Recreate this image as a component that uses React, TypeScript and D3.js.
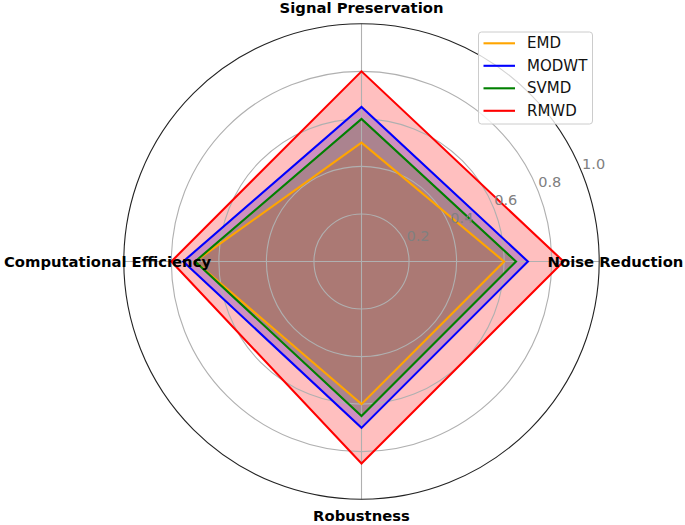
import React from "react";
import * as d3 from "d3";

const categories = ["Noise Reduction", "Signal Preservation", "Computational Efficiency", "Robustness"];
const seriesNames = ["EMD", "MODWT", "SVMD", "RMWD"];
const emdValues = [0.6, 0.5, 0.7, 0.6];
const modwtValues = [0.7, 0.65, 0.75, 0.7];
const svmdValues = [0.65, 0.6, 0.7, 0.65];
const rmwdValues = [0.85, 0.8, 0.8, 0.85];
const seriesColors = ["orange", "blue", "green", "red"];
const radialTicks = [0.2, 0.4, 0.6, 0.8, 1.0];
const tickLabels = ["0.2", "0.4", "0.6", "0.8", "1.0"];

const allSeries = [emdValues, modwtValues, svmdValues, rmwdValues];

const W = 685;
const H = 525;
const CX = 361.5;
const CY = 261.5;
const R = 237.7;
const FONT = "'DejaVu Sans', sans-serif";

export default function App() {
  const r = d3.scaleLinear().domain([0, 1]).range([0, R]);
  const theta = d3.scaleLinear().domain([0, categories.length]).range([0, 2 * Math.PI]);
  const d3Angle = (i: number) => Math.PI / 2 - theta(i);

  const radial = d3
    .lineRadial<number>()
    .angle((_, i) => d3Angle(i))
    .radius((v) => r(v))
    .curve(d3.curveLinearClosed);

  const pt = (i: number, v: number) => {
    const a = theta(i);
    return [CX + r(v) * Math.cos(a), CY - r(v) * Math.sin(a)];
  };

  const labelAngle = (22.5 * Math.PI) / 180;

  return (
    <svg width={W} height={H} style={{ position: "absolute", left: 0, top: 0, background: "white" }}>
      <rect x={0} y={0} width={W} height={H} fill="white" />
      <g transform={`translate(${CX},${CY})`}>
        {allSeries.map((vals, k) => (
          <path key={"f" + k} d={radial(vals) || ""} fill={seriesColors[k]} fillOpacity={0.25} stroke="none" />
        ))}
        {radialTicks.slice(0, -1).map((t) => (
          <circle key={"c" + t} r={r(t)} fill="none" stroke="#b0b0b0" strokeWidth={1.1} />
        ))}
      </g>
      {categories.map((c, i) => {
        const [x, y] = pt(i, 1);
        return <line key={"s" + i} x1={CX} y1={CY} x2={x} y2={y} stroke="#b0b0b0" strokeWidth={1.1} />;
      })}
      <circle cx={CX} cy={CY} r={r(1)} fill="none" stroke="#222" strokeWidth={1.1} />
      <g transform={`translate(${CX},${CY})`}>
        {allSeries.map((vals, k) => (
          <path key={"l" + k} d={radial(vals) || ""} fill="none" stroke={seriesColors[k]} strokeWidth={2.1} strokeLinejoin="miter" />
        ))}
      </g>
      {radialTicks.map((t, i) => {
        const x = CX + r(t) * Math.cos(labelAngle);
        const y = CY - r(t) * Math.sin(labelAngle);
        return (
          <text key={"t" + t} x={x + 1} y={y - 2} fontFamily={FONT} fontSize={14.5} fill="#808080" textAnchor="start">
            {tickLabels[i]}
          </text>
        );
      })}
      {categories.map((c, i) => {
        const a = theta(i);
        const x = CX + 254 * Math.cos(a);
        const y = CY - 254 * Math.sin(a);
        return (
          <text key={"cl" + i} x={x} y={y} fontFamily={FONT} fontSize={14.8} fontWeight="bold" fill="#000" textAnchor="middle" dominantBaseline="central">
            {c}
          </text>
        );
      })}
      <g>
        <rect x={478.5} y={32} width={114} height={92} rx={3} ry={3} fill="white" fillOpacity={0.8} stroke="#cccccc" strokeWidth={1} />
        {seriesNames.map((n, k) => {
          const y = 43.3 + k * 22.5;
          return (
            <g key={"lg" + k}>
              <line x1={483.5} x2={515} y1={y} y2={y} stroke={seriesColors[k]} strokeWidth={2.1} />
              <text x={527} y={y} fontFamily={FONT} fontSize={15} fill="#111" dominantBaseline="central">
                {n}
              </text>
            </g>
          );
        })}
      </g>
    </svg>
  );
}
